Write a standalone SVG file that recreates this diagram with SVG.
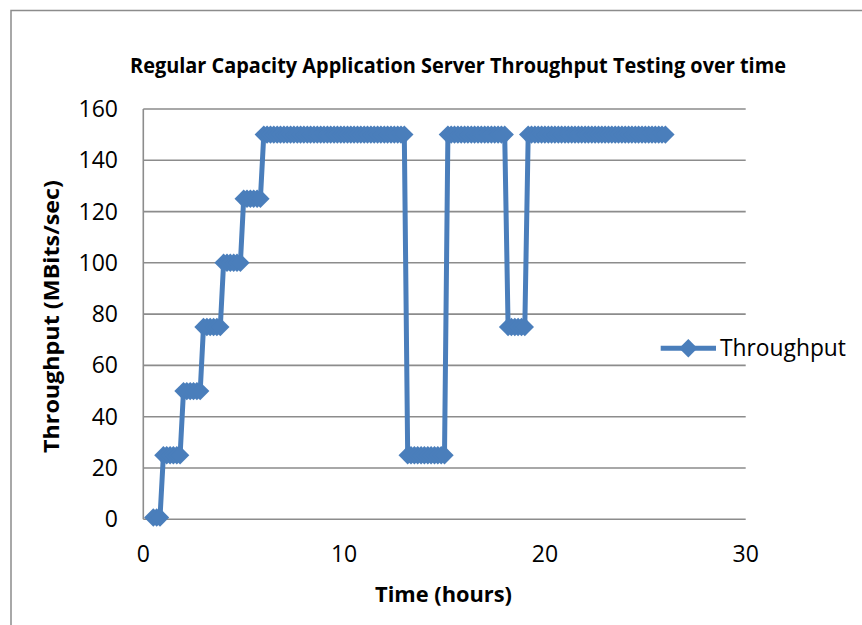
<svg xmlns="http://www.w3.org/2000/svg" width="862" height="625" viewBox="0 0 862 625">
  <style>
    .frame { fill: none; stroke: #8c8c8c; stroke-width: 1.5; }
    .grid { stroke: #8c8c8c; stroke-width: 1.6; fill: none; }
    .tick { font-family: "Open Sans", "Liberation Sans", sans-serif; font-size: 23px; fill: #000; }
    .ytick { text-anchor: end; }
    .xtick { text-anchor: middle; }
    .title { font-family: "Open Sans", "Liberation Sans", sans-serif; font-weight: bold; fill: #000; text-anchor: middle; }
    .series { fill: none; stroke: #4a7ebb; stroke-width: 5; stroke-linejoin: round; }
    .legend-text { font-family: "Open Sans", "Liberation Sans", sans-serif; font-size: 22.8px; fill: #000; }
  </style>
  <defs>
    <marker id="diamond" viewBox="-10 -10 20 20" markerWidth="20" markerHeight="20" refX="0" refY="0" markerUnits="userSpaceOnUse" overflow="visible">
      <path d="M0,-9.2 L9.2,0 L0,9.2 L-9.2,0 Z" fill="#4a7ebb"/>
    </marker>
  </defs>

  <rect width="862" height="625" fill="#ffffff"/>

  <!-- chart frame -->
  <path class="frame" d="M11,625 V10.5 H862"/>

  <!-- chart title -->
  <text class="title" x="458" y="73" font-size="20.5" textLength="656" lengthAdjust="spacingAndGlyphs">Regular Capacity Application Server Throughput Testing over time</text>

  <!-- plot area: horizontal gridlines and axes -->
  <g id="plot-area">
    <path class="grid" d="M143.3,109 H745.7 M143.3,160.3 H745.7 M143.3,211.6 H745.7 M143.3,262.8 H745.7 M143.3,314.1 H745.7 M143.3,365.4 H745.7 M143.3,416.7 H745.7 M143.3,468 H745.7 M143.3,519.3 H745.7"/>
    <path class="grid" d="M143.3,109 V519.3"/>
  </g>

  <!-- value axis labels -->
  <g id="y-axis">
    <text class="tick ytick" x="118" y="117">160</text>
    <text class="tick ytick" x="118" y="168.3">140</text>
    <text class="tick ytick" x="118" y="219.6">120</text>
    <text class="tick ytick" x="118" y="270.8">100</text>
    <text class="tick ytick" x="118" y="322.1">80</text>
    <text class="tick ytick" x="118" y="373.4">60</text>
    <text class="tick ytick" x="118" y="424.7">40</text>
    <text class="tick ytick" x="118" y="476">20</text>
    <text class="tick ytick" x="118" y="527.3">0</text>
    <text class="title" x="0" y="0" font-size="21" textLength="273" lengthAdjust="spacingAndGlyphs" transform="translate(58.5,316.5) rotate(-90)">Throughput (MBits/sec)</text>
  </g>

  <!-- time axis labels -->
  <g id="x-axis">
    <text class="tick xtick" x="143.3" y="562">0</text>
    <text class="tick xtick" x="344.1" y="562">10</text>
    <text class="tick xtick" x="544.9" y="562">20</text>
    <text class="tick xtick" x="745.7" y="562">30</text>
    <text class="title" x="443.5" y="602" font-size="21" textLength="137" lengthAdjust="spacingAndGlyphs">Time (hours)</text>
  </g>

  <!-- throughput series, one sample every 10 minutes -->
  <g id="series-throughput">
    <polyline class="series" marker-start="url(#diamond)" marker-mid="url(#diamond)" marker-end="url(#diamond)" points="
      153.3,517.5 156.7,517.5 160.0,517.5
      163.4,455.2 166.7,455.2 170.1,455.2 173.4,455.2 176.8,455.2 180.1,455.2
      183.5,391.1 186.8,391.1 190.2,391.1 193.5,391.1 196.9,391.1 200.2,391.1
      203.5,327.0 206.9,327.0 210.2,327.0 213.6,327.0 216.9,327.0 220.3,327.0
      223.6,262.8 227.0,262.8 230.3,262.8 233.7,262.8 237.0,262.8 240.4,262.8
      243.7,198.7 247.0,198.7 250.4,198.7 253.7,198.7 257.1,198.7 260.4,198.7
      263.8,134.6 267.1,134.6 270.5,134.6 273.8,134.6 277.2,134.6 280.5,134.6 283.9,134.6 287.2,134.6 290.6,134.6 293.9,134.6
      297.3,134.6 300.6,134.6 303.9,134.6 307.3,134.6 310.6,134.6 314.0,134.6 317.3,134.6 320.7,134.6 324.0,134.6 327.4,134.6
      330.7,134.6 334.1,134.6 337.4,134.6 340.8,134.6 344.1,134.6 347.5,134.6 350.8,134.6 354.1,134.6 357.5,134.6 360.8,134.6
      364.2,134.6 367.5,134.6 370.9,134.6 374.2,134.6 377.6,134.6 380.9,134.6 384.3,134.6 387.6,134.6 391.0,134.6 394.3,134.6
      397.7,134.6 401.0,134.6 404.3,134.6
      407.7,455.2 411.0,455.2 414.4,455.2 417.7,455.2 421.1,455.2 424.4,455.2 427.8,455.2 431.1,455.2 434.5,455.2 437.8,455.2 441.2,455.2 444.5,455.2
      447.9,134.6 451.2,134.6 454.5,134.6 457.9,134.6 461.2,134.6 464.6,134.6 467.9,134.6 471.3,134.6 474.6,134.6 478.0,134.6
      481.3,134.6 484.7,134.6 488.0,134.6 491.4,134.6 494.7,134.6 498.1,134.6 501.4,134.6 504.7,134.6
      508.1,327.0 511.4,327.0 514.8,327.0 518.1,327.0 521.5,327.0 524.8,327.0
      528.2,134.6 531.5,134.6 534.9,134.6 538.2,134.6 541.6,134.6 544.9,134.6 548.3,134.6 551.6,134.6 554.9,134.6 558.3,134.6
      561.6,134.6 565.0,134.6 568.3,134.6 571.7,134.6 575.0,134.6 578.4,134.6 581.7,134.6 585.1,134.6 588.4,134.6 591.8,134.6
      595.1,134.6 598.5,134.6 601.8,134.6 605.1,134.6 608.5,134.6 611.8,134.6 615.2,134.6 618.5,134.6 621.9,134.6 625.2,134.6
      628.6,134.6 631.9,134.6 635.3,134.6 638.6,134.6 642.0,134.6 645.3,134.6 648.7,134.6 652.0,134.6 655.3,134.6 658.7,134.6
      662.0,134.6 665.4,134.6"/>
  </g>

  <!-- legend -->
  <g id="legend">
    <line class="series" x1="660.7" y1="348.3" x2="716" y2="348.3"/>
    <path d="M688.3,339.1 L697.5,348.3 L688.3,357.5 L679.1,348.3 Z" fill="#4a7ebb"/>
    <text class="legend-text" x="720" y="356">Throughput</text>
  </g>
</svg>
